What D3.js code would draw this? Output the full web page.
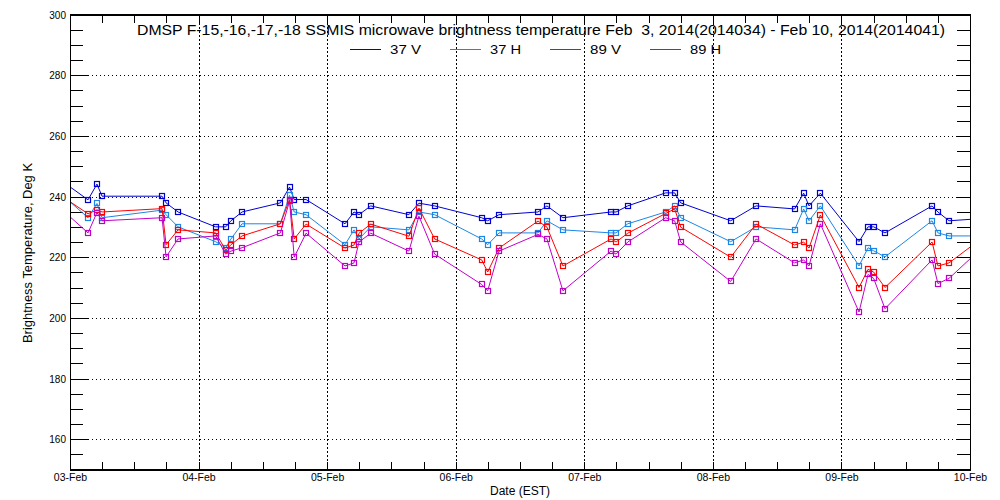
<!DOCTYPE html>
<html>
<head>
<meta charset="utf-8">
<script src="https://cdn.jsdelivr.net/npm/d3@7"></script>
<style>
  body { margin: 0; background: #fff; }
  svg { display: block; font-family: "Liberation Sans", Arial, sans-serif; }
  .axis path, .axis line { stroke: #000; shape-rendering: crispEdges; }
  .axis text { fill: #000; font-size: 10px; }
  .grid line { stroke: #000; shape-rendering: crispEdges; }
</style>
</head>
<body>
<div id="chart"></div>
<script>
// pass times (UTC-style stamps, EST clock), first and last fall just outside the window
var times = [
  "2014-02-02T22:48", "2014-02-03T03:22", "2014-02-03T05:02", "2014-02-03T05:59",
  "2014-02-03T17:11", "2014-02-03T17:56", "2014-02-03T20:10",
  "2014-02-04T03:11", "2014-02-04T05:04", "2014-02-04T06:03", "2014-02-04T08:07",
  "2014-02-04T15:16", "2014-02-04T16:59", "2014-02-04T17:51", "2014-02-04T20:04",
  "2014-02-05T03:20", "2014-02-05T05:01", "2014-02-05T05:57", "2014-02-05T08:08",
  "2014-02-05T15:16", "2014-02-05T17:08", "2014-02-05T20:04",
  "2014-02-06T04:51", "2014-02-06T05:58", "2014-02-06T08:05",
  "2014-02-06T15:22", "2014-02-06T17:02", "2014-02-06T20:01",
  "2014-02-07T05:00", "2014-02-07T05:56", "2014-02-07T08:07",
  "2014-02-07T15:11", "2014-02-07T16:52", "2014-02-07T18:00",
  "2014-02-08T03:20", "2014-02-08T08:04", "2014-02-08T15:16",
  "2014-02-08T16:57", "2014-02-08T17:57", "2014-02-08T20:04",
  "2014-02-09T03:17", "2014-02-09T04:58", "2014-02-09T06:01", "2014-02-09T08:08",
  "2014-02-09T16:55", "2014-02-09T18:01", "2014-02-09T20:05", "2014-02-10T01:08"
];

var v37V = [
  244.7, 238.9, 244.1, 240.1, 240.1, 237.9, 234.9,
  230.0, 230.0, 232.0, 234.9, 237.9, 243.1, 239.0, 239.0,
  231.0, 234.9, 234.0, 236.9, 234.0, 237.8, 236.9,
  233.0, 232.0, 234.0, 234.9, 236.9, 233.0,
  234.9, 234.9, 236.9, 241.2, 241.2, 237.9,
  232.0, 236.9, 235.9, 241.1, 236.9, 241.1,
  225.1, 230.0, 230.0, 228.0, 236.9, 234.9, 232.0, 232.6
];
var v37H = [
  240.1, 233.0, 237.7, 233.0, 235.5, 234.0, 230.0,
  225.1, 223.1, 226.0, 231.0, 231.0, 240.4, 234.9, 234.0,
  224.1, 229.0, 226.0, 230.0, 229.0, 234.9, 234.0,
  226.0, 224.1, 228.0, 228.0, 232.0, 229.0,
  228.0, 228.0, 231.0, 234.9, 236.9, 233.0,
  225.1, 230.0, 229.0, 235.9, 232.0, 236.9,
  217.1, 223.1, 222.1, 220.1, 232.0, 228.0, 227.0, 227.0
];
var v89V = [
  239.7, 234.3, 235.6, 234.9, 236.0, 224.1, 229.0,
  228.0, 222.3, 224.1, 227.0, 231.0, 239.0, 226.0, 230.9,
  223.0, 224.0, 227.9, 230.9, 226.9, 236.2, 226.0,
  219.1, 215.1, 223.0, 231.9, 229.9, 217.1,
  226.0, 225.0, 227.9, 234.4, 235.9, 229.9,
  220.0, 230.9, 224.0, 225.0, 223.0, 233.9,
  210.0, 216.0, 215.1, 210.0, 225.0, 217.1, 218.1, 224.8
];
var v89H = [
  235.2, 228.0, 234.7, 232.0, 233.0, 220.1, 226.0,
  227.0, 221.0, 222.0, 223.1, 228.0, 238.5, 220.0, 227.9,
  217.1, 218.1, 225.0, 227.9, 222.0, 233.5, 221.0,
  211.0, 208.9, 222.0, 227.5, 226.0, 208.9,
  222.0, 221.0, 225.0, 233.0, 232.0, 225.0,
  212.0, 226.0, 218.1, 219.1, 217.1, 231.0,
  201.9, 214.3, 213.0, 203.0, 219.1, 211.3, 213.0, 221.3
];

var seriesNames = ["37 V", "37 H", "89 V", "89 H"];
var seriesColors = ["#0000d0", "#1c86e6", "#ff0000", "#c000c8"];
var yTicks = [160, 180, 200, 220, 240, 260, 280, 300];

var titleText = "DMSP F-15,-16,-17,-18 SSMIS microwave brightness temperature Feb  3, 2014(2014034) - Feb 10, 2014(2014041)";

(function() {
  'use strict';
  var W = 1000, H = 500;
  var left = 70, right = 970, top = 14.5, bottom = 469.5;
  var parse = d3.utcParse("%Y-%m-%dT%H:%M");
  var dates = times.map(parse);

  var x = d3.scaleUtc()
    .domain([parse("2014-02-03T00:00"), parse("2014-02-10T00:00")])
    .range([left, right]);
  var y = d3.scaleLinear().domain([150, 300]).range([bottom, top]);

  var svg = d3.select('#chart').append('svg')
    .attr('width', W).attr('height', H);

  svg.append('clipPath').attr('id', 'plotclip')
    .append('rect')
    .attr('x', left).attr('y', top)
    .attr('width', right - left).attr('height', bottom - top);

  // dotted grid
  var grid = svg.append('g').attr('class', 'grid');
  grid.selectAll('.gx')
    .data(x.ticks(d3.utcDay.every(1)).slice(1, -1))
    .enter().append('line')
    .attr('x1', function(d) { return Math.round(x(d)) + 0.5; })
    .attr('x2', function(d) { return Math.round(x(d)) + 0.5; })
    .attr('y1', top).attr('y2', bottom)
    .attr('stroke-dasharray', '2,2');
  grid.selectAll('.gy')
    .data(yTicks.slice(0, -1))
    .enter().append('line')
    .attr('x1', left + 18).attr('x2', right)
    .attr('y1', function(d) { return Math.round(y(d)) + 0.5; })
    .attr('y2', function(d) { return Math.round(y(d)) + 0.5; })
    .attr('stroke-dasharray', '1,3');

  // axes: minor ticks all round, labels on left and bottom
  var minorX = x.ticks(d3.utcHour.every(6));
  var minorY = d3.range(150, 301, 5);

  svg.append('g').attr('class', 'axis')
    .attr('transform', 'translate(0,' + bottom + ')')
    .call(d3.axisBottom(x).tickValues(minorX).tickSize(-8).tickFormat('').tickSizeOuter(0));
  svg.append('g').attr('class', 'axis')
    .attr('transform', 'translate(0,' + top + ')')
    .call(d3.axisTop(x).tickValues(minorX).tickSize(-8).tickFormat('').tickSizeOuter(0));
  svg.append('g').attr('class', 'axis')
    .attr('transform', 'translate(' + left + ',0)')
    .call(d3.axisLeft(y).tickValues(minorY).tickSize(-13).tickFormat('').tickSizeOuter(0));
  svg.append('g').attr('class', 'axis')
    .attr('transform', 'translate(' + right + ',0)')
    .call(d3.axisRight(y).tickValues(minorY).tickSize(-13).tickFormat('').tickSizeOuter(0));

  var yLab = svg.append('g').attr('class', 'axis')
    .attr('transform', 'translate(' + left + ',0)')
    .call(d3.axisLeft(y).tickValues(yTicks).tickSize(-18).tickPadding(-14).tickSizeOuter(0));
  yLab.select('.domain').remove();
  yLab.selectAll('text').attr('dy', '0.35em').attr('x', -4);

  var xLab = svg.append('g').attr('class', 'axis')
    .attr('transform', 'translate(0,' + bottom + ')')
    .call(d3.axisBottom(x).ticks(d3.utcDay.every(1)).tickSize(0).tickPadding(4)
      .tickFormat(d3.utcFormat('%d-%b')).tickSizeOuter(0));
  xLab.select('.domain').remove();
  xLab.selectAll('text').style('font-size', '10.5px');

  // series
  var all = [v37V, v37H, v89V, v89H];
  var line = d3.line()
    .x(function(d, i) { return x(dates[i]); })
    .y(function(d) { return y(d); });

  var plot = svg.append('g').attr('clip-path', 'url(#plotclip)');
  all.forEach(function(vals, k) {
    plot.append('path')
      .attr('d', line(vals))
      .attr('fill', 'none')
      .attr('stroke', seriesColors[k])
      .attr('stroke-width', 1);
    plot.selectAll('.m' + k)
      .data(vals)
      .enter().append('rect')
      .attr('x', function(d, i) { return Math.round(x(dates[i])) - 2.5; })
      .attr('y', function(d) { return Math.round(y(d)) - 2.5; })
      .attr('width', 5).attr('height', 5)
      .attr('fill', 'none')
      .attr('stroke', seriesColors[k])
      .attr('stroke-width', 1.2);
  });

  // frame on top
  svg.append('rect')
    .attr('x', left + 0.5).attr('y', top)
    .attr('width', right - left).attr('height', bottom - top)
    .attr('fill', 'none').attr('stroke', '#000').attr('shape-rendering', 'crispEdges');

  // title and legend
  svg.append('text')
    .attr('x', 137).attr('y', 35)
    .attr('textLength', 808).attr('lengthAdjust', 'spacingAndGlyphs')
    .style('font-size', '14px').style('white-space', 'pre')
    .text(titleText);

  var leg = svg.append('g');
  seriesNames.forEach(function(n, k) {
    var lx = 350 + k * 100;
    leg.append('line')
      .attr('x1', lx).attr('x2', lx + 31)
      .attr('y1', 49.5).attr('y2', 49.5)
      .attr('stroke', seriesColors[k]);
    leg.append('text')
      .attr('x', lx + 40).attr('y', 54)
      .attr('textLength', 31).attr('lengthAdjust', 'spacingAndGlyphs')
      .style('font-size', '13px').style('white-space', 'pre')
      .text(n);
  });

  svg.append('text')
    .attr('x', 520).attr('y', 495)
    .attr('text-anchor', 'middle')
    .attr('textLength', 60).attr('lengthAdjust', 'spacingAndGlyphs')
    .style('font-size', '12px')
    .text('Date (EST)');

  svg.append('text')
    .attr('transform', 'translate(32,253) rotate(-90)')
    .attr('text-anchor', 'middle')
    .attr('textLength', 180).attr('lengthAdjust', 'spacingAndGlyphs')
    .style('font-size', '12px')
    .text('Brightness Temperature, Deg K');
})();
</script>
</body>
</html>
